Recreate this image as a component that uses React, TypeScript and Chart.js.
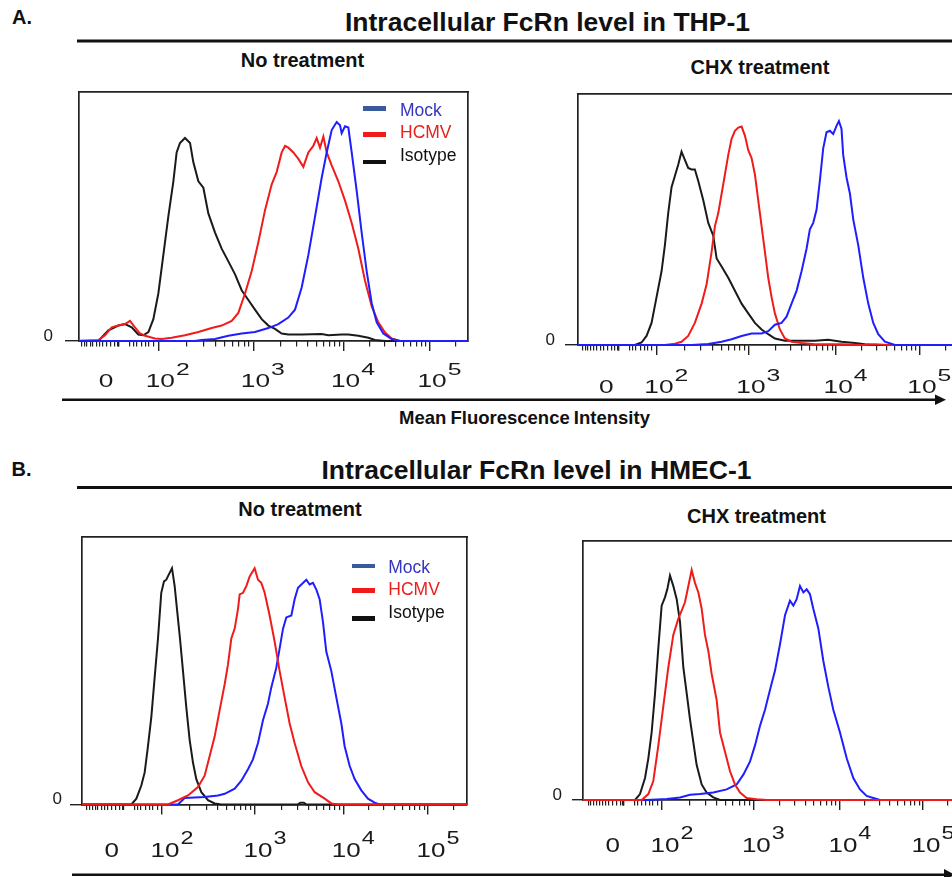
import React, { useEffect, useRef } from "react";
import { Chart, registerables } from "chart.js";

Chart.register(...registerables);

const FONT = '"Liberation Sans", Arial, Helvetica, sans-serif';
const BLUE = "#1e1eff";
const RED = "#f01c1c";
const BLACK = "#1a1a1a";
const AXIS = "#222222";

type Pt = [number, number];

// x: position on the biexponential FL axis in decades (10^2 -> 2 ... 10^5 -> 5)
// y: cell count, % of full scale of the panel
const THP1_NT_MOCK: Pt[] = [[1.09,0],[2.40,0],[2.478,0.4],[2.626,0.8],[2.773,2.1],[2.920,3],[3.067,3.6],[3.215,5.2],[3.325,6.8],[3.435,9.4],[3.509,12.6],[3.583,21.6],[3.656,34.5],[3.730,50],[3.803,65.5],[3.859,75.8],[3.914,84.8],[3.969,88],[4.006,86.7],[4.024,83.5],[4.061,86.3],[4.098,85.8],[4.135,75.8],[4.190,60.3],[4.245,43.6],[4.300,28.1],[4.356,15.2],[4.411,7.5],[4.484,3],[4.576,0.8],[4.668,0],[5.45,0]];
const THP1_NT_HCMV: Pt[] = [[1.09,0],[1.338,0.4],[1.411,2.3],[1.485,5.5],[1.558,6.2],[1.632,6.8],[1.687,8.1],[1.742,5.5],[1.798,3],[1.853,2.1],[1.963,1],[2.037,0.8],[2.147,1.3],[2.294,2.3],[2.442,3.6],[2.589,5.2],[2.699,6.2],[2.810,8.1],[2.883,11.3],[2.957,19.1],[3.031,28.1],[3.104,39.7],[3.178,52.6],[3.251,62.9],[3.307,68],[3.362,75.8],[3.399,78.4],[3.435,77.7],[3.491,75.8],[3.546,73.2],[3.601,70],[3.656,75.8],[3.711,78.4],[3.748,81.6],[3.785,77.7],[3.822,82.2],[3.859,75.8],[3.914,70.6],[3.987,64.2],[4.061,56.4],[4.135,47.4],[4.208,37.1],[4.282,24.2],[4.356,13.9],[4.429,7.5],[4.503,3.4],[4.576,1],[4.668,0],[5.45,0]];
const THP1_NT_ISO: Pt[] = [[1.09,0],[1.338,0],[1.448,4.3],[1.558,6.2],[1.632,6.8],[1.706,5.5],[1.779,2.6],[1.834,2.3],[1.890,3.6],[1.945,8.8],[2.000,19.1],[2.055,34.5],[2.110,50],[2.166,64.2],[2.202,75.8],[2.239,79.6],[2.294,81.6],[2.350,79.6],[2.386,71.9],[2.442,64.2],[2.497,61.6],[2.552,51.3],[2.626,43.6],[2.699,37.1],[2.773,32],[2.847,26.8],[2.920,20.4],[2.994,16.5],[3.067,12.6],[3.141,8.8],[3.215,6.2],[3.288,4.9],[3.362,3],[3.435,2.6],[3.583,2.6],[3.803,2.8],[3.877,2.3],[4.024,2.6],[4.098,2.6],[4.208,2.1],[4.319,1.3],[4.392,0.4],[4.503,0],[5.45,0]];

const THP1_CHX_MOCK: Pt[] = [[1.09,0],[2.395,0],[2.586,0.4],[2.738,1.3],[2.852,2.3],[2.966,3.6],[3.080,4.6],[3.194,4.6],[3.270,5.5],[3.346,8.1],[3.422,8.8],[3.479,11.3],[3.536,16.5],[3.593,21.6],[3.650,29.4],[3.707,38.4],[3.745,46.1],[3.783,48.7],[3.821,53.9],[3.859,65.5],[3.897,78.4],[3.935,84.8],[3.973,85.4],[4.011,84.1],[4.049,87.4],[4.076,89.3],[4.106,86.1],[4.125,75.8],[4.163,66.8],[4.202,60.3],[4.240,50],[4.297,39.7],[4.354,26.8],[4.411,16.5],[4.468,8.8],[4.525,4.3],[4.601,1.3],[4.715,0],[5.45,0]];
const THP1_CHX_HCMV: Pt[] = [[1.09,0],[2.091,0],[2.205,0.5],[2.281,1.3],[2.357,3.6],[2.433,8.8],[2.510,16.5],[2.567,24.2],[2.624,37.1],[2.662,47.4],[2.700,52.6],[2.738,60.3],[2.776,68],[2.814,75.8],[2.852,82.2],[2.890,85.4],[2.928,86.7],[2.966,87.1],[3.004,83.5],[3.042,77.7],[3.080,74.5],[3.118,68],[3.156,57.7],[3.194,47.4],[3.232,37.1],[3.270,26.8],[3.308,19.1],[3.346,12.6],[3.403,6.2],[3.460,2.6],[3.536,1.3],[3.650,0.8],[3.802,0.3],[4.106,0.3],[4.335,0],[4.487,0.3],[4.639,0],[5.45,0]];
const THP1_CHX_ISO: Pt[] = [[1.09,0],[1.749,0],[1.825,1],[1.882,3.6],[1.939,8.8],[1.996,19.1],[2.053,29.4],[2.091,39.7],[2.129,52.6],[2.167,62.9],[2.205,67.4],[2.243,71.9],[2.281,77.1],[2.319,73.8],[2.357,70.6],[2.395,70],[2.433,70],[2.471,65.5],[2.529,57.7],[2.586,48.7],[2.643,43.6],[2.681,34.5],[2.738,31.3],[2.814,26.8],[2.890,21.6],[2.966,16.5],[3.042,12.6],[3.118,8.8],[3.194,6.2],[3.270,4.3],[3.346,2.6],[3.460,1.7],[3.650,1.7],[3.802,1.7],[3.954,2.1],[4.106,1.3],[4.259,0.8],[4.373,0.3],[4.487,0],[5.45,0]];

const HMEC_NT_MOCK: Pt[] = [[1.09,0],[2.180,0],[2.256,2.4],[2.481,2.8],[2.632,3.4],[2.707,4],[2.820,5.9],[2.895,8.9],[2.970,13.2],[3.026,16.9],[3.083,23],[3.139,31.5],[3.195,37.7],[3.233,43.8],[3.289,51.1],[3.327,58.4],[3.365,65.8],[3.402,70],[3.459,70.7],[3.496,76.8],[3.534,81.1],[3.590,82.9],[3.628,84.1],[3.665,82.3],[3.703,82.9],[3.741,80.4],[3.778,76.8],[3.816,68.2],[3.853,57.2],[3.910,49.9],[3.966,40.1],[4.023,30.3],[4.060,21.8],[4.117,14.4],[4.173,9.5],[4.248,5.3],[4.323,2.2],[4.398,0.7],[4.455,0],[5.45,0]];
const HMEC_NT_HCMV: Pt[] = [[1.09,0],[2.068,0],[2.180,1.6],[2.293,3.4],[2.406,6.5],[2.481,10.8],[2.556,20.5],[2.594,25.4],[2.650,35.2],[2.707,45],[2.744,52.3],[2.782,62.1],[2.820,65.8],[2.857,73.1],[2.876,78.6],[2.914,79.2],[2.951,81.7],[2.989,85.3],[3.045,88.4],[3.083,84.1],[3.120,82.9],[3.158,79.2],[3.214,70.7],[3.271,60.9],[3.327,49.9],[3.383,40.1],[3.440,30.3],[3.496,23],[3.571,14.4],[3.647,8.3],[3.722,4.6],[3.835,2.2],[3.910,0.4],[3.985,0],[5.45,0]];
const HMEC_NT_ISO: Pt[] = [[1.09,0],[1.654,0],[1.711,2.2],[1.767,7.1],[1.805,12],[1.842,21.8],[1.880,32.8],[1.917,47.4],[1.955,62.1],[1.992,79.2],[2.023,83.5],[2.049,84.1],[2.075,85.9],[2.113,88.4],[2.143,81.7],[2.173,71.9],[2.203,62.1],[2.237,49.9],[2.274,36.4],[2.312,24.2],[2.350,15.6],[2.387,9.5],[2.444,4.6],[2.519,1.6],[2.594,0.4],[2.669,0],[3.53,0],[3.56,0.7],[3.60,0.7],[3.63,0],[5.45,0]];

const HMEC_CHX_MOCK: Pt[] = [[1.09,0],[1.824,0],[2.054,0.4],[2.207,1],[2.322,2],[2.437,2.3],[2.590,2.9],[2.743,4.1],[2.858,6],[2.935,9.8],[3.011,14.8],[3.069,21.1],[3.126,28.6],[3.184,34.9],[3.241,42.5],[3.299,50],[3.356,60.1],[3.414,71.4],[3.471,77],[3.510,75.1],[3.548,77.6],[3.586,82.7],[3.625,80.2],[3.663,81.4],[3.701,79.5],[3.739,73.9],[3.797,66.3],[3.854,53.8],[3.912,43.7],[3.969,34.9],[4.046,26.1],[4.123,16.1],[4.199,8.5],[4.276,4.1],[4.352,1.6],[4.429,0.8],[4.506,0],[5.45,0]];
const HMEC_CHX_HCMV: Pt[] = [[1.09,0],[1.766,0],[1.843,2.3],[1.900,7.3],[1.958,21.1],[2.015,36.2],[2.073,51.3],[2.130,63.8],[2.188,70.1],[2.226,73.2],[2.264,76.4],[2.303,82.7],[2.341,88.9],[2.379,83.9],[2.418,80.2],[2.456,73.9],[2.494,63.8],[2.533,57.5],[2.571,48.7],[2.628,38.7],[2.667,26.1],[2.724,18.6],[2.782,11.1],[2.839,6],[2.897,2.9],[2.973,0.8],[3.088,0.3],[3.203,0],[5.45,0]];
const HMEC_CHX_ISO: Pt[] = [[1.09,0],[1.690,0],[1.747,2.3],[1.805,8.5],[1.843,16.1],[1.881,26.1],[1.920,41.2],[1.958,58.8],[1.996,75.1],[2.034,78.3],[2.061,81.4],[2.092,86.7],[2.130,82.7],[2.169,77.6],[2.207,68.8],[2.245,51.3],[2.284,41.2],[2.322,31.2],[2.360,22.4],[2.398,13.6],[2.456,6],[2.513,2.9],[2.590,1],[2.667,0],[5.45,0]];

const SERIES_NAMES = ["Mock", "HCMV", "Isotype"];
const SERIES_COLORS = [BLUE, RED, BLACK];

// axis: major decades, minor ticks in the linear (near zero) region, tick labels
const X_MAJOR = [2, 3.05, 4.045, 5];
const X_MINOR_LOW = [1.154,1.183,1.213,1.249,1.279,1.315,1.353,1.389,1.434,1.478,1.522,1.552,1.558,1.564,1.688,1.724,1.761,1.817,1.861,1.897,1.945];
const X_LABEL_POS = [1.40, 2, 3.05, 4.045, 5];
const X_LABEL_BASE = ["0", "10", "10", "10", "10"];
const X_LABEL_SUP = ["", "2", "3", "4", "5"];

function minorTicks(max: number): number[] {
  const out = [...X_MINOR_LOW];
  const majors = [...X_MAJOR, X_MAJOR[3] + 0.955];
  for (let i = 0; i < majors.length - 1; i++) {
    const span = majors[i + 1] - majors[i];
    for (let k = 2; k <= 9; k++) out.push(majors[i] + span * Math.log10(k));
  }
  return out.filter((v) => v <= max);
}

const PANELS = [
  { key: "thp1-nt", left: 20, top: 70, width: 460, height: 330, yAxisW: 59, xAxisH: 59, padTop: 12, padRight: 12, xMin: 1.124, xMax: 5.419, yTick: 14, yPad: 12, lab: { size: 17.5, sx: 1.5, supSize: 16.5, rise: 12, dy: 46, dx: 2 }, series: [THP1_NT_MOCK, THP1_NT_HCMV, THP1_NT_ISO], order: [0, 1, 2] },
  { key: "thp1-chx", left: 520, top: 74, width: 460, height: 330, yAxisW: 58, xAxisH: 59, padTop: 12, padRight: 22.4, xMin: 1.1, xMax: 5.43, yTick: 13, yPad: 10, lab: { size: 17.5, sx: 1.5, supSize: 16.5, rise: 12, dy: 48, dx: 2 }, series: [THP1_CHX_MOCK, THP1_CHX_HCMV, THP1_CHX_ISO], order: [0, 1, 2] },
  { key: "hmec-nt", left: 20, top: 519, width: 460, height: 358, yAxisW: 62, xAxisH: 72.5, padTop: 12, padRight: 13, xMin: 1.098, xMax: 5.44, yTick: 12, yPad: 8, lab: { size: 20, sx: 1.3, supSize: 18, rise: 13, dy: 52, dx: 3 }, series: [HMEC_NT_MOCK, HMEC_NT_HCMV, HMEC_NT_ISO], order: [1, 0, 2] },
  { key: "hmec-chx", left: 520, top: 521, width: 460, height: 356, yAxisW: 63, xAxisH: 77, padTop: 12, padRight: 19.6, xMin: 1.092, xMax: 5.43, yTick: 11, yPad: 10, lab: { size: 20, sx: 1.3, supSize: 18, rise: 13, dy: 52, dx: 3 }, series: [HMEC_CHX_MOCK, HMEC_CHX_HCMV, HMEC_CHX_ISO], order: [1, 0, 2] },
];

const biexLabels = {
  id: "biexLabels",
  afterDraw(chart: any, _args: any, opts: any) {
    const scale = chart.scales.x;
    const ctx = chart.ctx;
    const yb = chart.chartArea.bottom + opts.dy;
    ctx.save();
    ctx.fillStyle = "#1a1a1a";
    ctx.textBaseline = "alphabetic";
    ctx.textAlign = "left";
    X_LABEL_POS.forEach((pos, i) => {
      const cx = scale.getPixelForValue(pos) + opts.dx;
      ctx.font = `${opts.size}px ${FONT}`;
      const base = X_LABEL_BASE[i];
      const w = ctx.measureText(base).width * opts.sx;
      ctx.save();
      ctx.translate(cx - w / 2, yb);
      ctx.scale(opts.sx, 1);
      ctx.fillText(base, 0, 0);
      ctx.restore();
      const sup = X_LABEL_SUP[i];
      if (sup) {
        ctx.font = `${opts.supSize}px ${FONT}`;
        ctx.save();
        ctx.translate(cx + w / 2 + 1, yb - opts.rise);
        ctx.scale(opts.sx, 1);
        ctx.fillText(sup, 0, 0);
        ctx.restore();
      }
    });
    ctx.restore();
  },
};

function Histogram({ p }: { p: any }) {
  const ref = useRef<HTMLCanvasElement>(null);
  useEffect(() => {
    if (!ref.current) return;
    const chart = new Chart(ref.current, {
      type: "line",
      data: {
        datasets: p.series.map((s: Pt[], i: number) => ({
          label: SERIES_NAMES[i],
          data: s.map(([x, y]) => ({ x, y })),
          borderColor: SERIES_COLORS[i],
          backgroundColor: SERIES_COLORS[i],
          borderWidth: 2,
          pointRadius: 0,
          tension: 0,
          fill: false,
          order: p.order[i],
          clip: { left: 0, right: 0, top: false, bottom: 3 },
          xAxisID: "x",
          yAxisID: "y",
        })),
      },
      options: {
        animation: false,
        responsive: false,
        devicePixelRatio: 1,
        layout: { padding: { top: p.padTop, right: p.padRight, left: 0, bottom: 0 } },
        plugins: {
          legend: { display: false },
          tooltip: { enabled: false },
          biexLabels: p.lab,
        } as any,
        scales: {
          x: {
            type: "linear", position: "bottom", min: p.xMin, max: p.xMax, weight: 0,
            afterBuildTicks: (s: any) => { s.ticks = X_MAJOR.map((v) => ({ value: v })); },
            afterFit: (s: any) => { s.height = 0; },
            ticks: { display: false },
            grid: { display: true, drawOnChartArea: false, drawTicks: true, tickLength: 10, color: AXIS, lineWidth: 1.4 },
            border: { display: true, color: AXIS, width: 1.7 },
          },
          xMinor: {
            type: "linear", position: "bottom", min: p.xMin, max: p.xMax, weight: 1,
            afterBuildTicks: (s: any) => { s.ticks = minorTicks(p.xMax).map((v) => ({ value: v })); },
            afterFit: (s: any) => { s.height = p.xAxisH; },
            ticks: { display: false },
            grid: { display: true, drawOnChartArea: false, drawTicks: true, tickLength: 5.5, color: AXIS, lineWidth: 1.2 },
            border: { display: false },
          },
          y: {
            type: "linear", position: "left", min: 0, max: 100,
            afterBuildTicks: (s: any) => { s.ticks = [{ value: 0 }]; },
            afterFit: (s: any) => { s.width = p.yAxisW; },
            ticks: { callback: () => "0", color: "#1a1a1a", font: { family: FONT, size: 17 }, padding: p.yPad, labelOffset: -5 },
            grid: { display: true, drawOnChartArea: false, drawTicks: true, tickLength: p.yTick, color: AXIS, lineWidth: 1.4 },
            border: { display: true, color: AXIS, width: 1.7 },
          },
          xTop: {
            type: "linear", position: "top",
            afterFit: (s: any) => { s.height = 0; },
            ticks: { display: false },
            grid: { display: false },
            border: { display: true, color: AXIS, width: 1.7 },
          },
          yRight: {
            type: "linear", position: "right",
            afterFit: (s: any) => { s.width = 0; },
            ticks: { display: false },
            grid: { display: false },
            border: { display: true, color: AXIS, width: 1.7 },
          },
        } as any,
      },
      plugins: [biexLabels as any],
    } as any);
    return () => chart.destroy();
  }, []);
  return (
    <canvas
      ref={ref}
      width={p.width}
      height={p.height}
      style={{ position: "absolute", left: p.left, top: p.top, width: p.width, height: p.height }}
    />
  );
}

function Txt({ x, capTop, size, text, center, color, bold, extra }: any) {
  const top = capTop - 0.13 * size;
  return (
    <div
      style={{
        position: "absolute",
        top,
        left: center ? x - 400 : x,
        width: center ? 800 : undefined,
        textAlign: center ? "center" : "left",
        fontSize: size,
        lineHeight: `${size}px`,
        fontWeight: bold ? 700 : 400,
        color: color || "#111",
        whiteSpace: "nowrap",
        fontFamily: FONT,
        ...(extra || {}),
      }}
    >
      {text}
    </div>
  );
}

const LEGEND_TEXT_COLORS = ["#3535c0", "#e8201e", "#111"];
const LEGEND_BAR_COLORS = ["#3a5b9b", "#f01c1c", "#111"];

function Legend({ barX, textX, capTops, barYs, size }: any) {
  return (
    <>
      {SERIES_NAMES.map((n, i) => (
        <React.Fragment key={n}>
          <div style={{ position: "absolute", left: barX, top: barYs[i], width: 23, height: 4.8, background: LEGEND_BAR_COLORS[i] }} />
          <Txt x={textX} capTop={capTops[i]} size={size} text={n} color={LEGEND_TEXT_COLORS[i]} />
        </React.Fragment>
      ))}
    </>
  );
}

export default function App() {
  return (
    <div style={{ position: "absolute", left: 0, top: 0, width: 952, height: 877, overflow: "hidden", background: "#fff", fontFamily: FONT }}>
      <svg width={952} height={877} style={{ position: "absolute", left: 0, top: 0 }}>
        <rect x={77} y={39.5} width={875} height={3} fill="#111" />
        <rect x={77} y={486} width={875} height={3} fill="#111" />
        <rect x={62} y={398.5} width={875} height={2.5} fill="#111" />
        <polygon points="935,394.5 946,399.75 935,405" fill="#111" />
        <rect x={72} y={873.5} width={875} height={2.5} fill="#111" />
        <polygon points="944,869 955,874.75 944,880" fill="#111" />
      </svg>

      <Txt x={12} capTop={10} size={20} text="A." bold />
      <Txt x={11.5} capTop={462} size={20} text="B." bold />
      <Txt x={547.5} capTop={12} size={26.5} text="Intracellular FcRn level in THP-1" bold center />
      <Txt x={536.5} capTop={460} size={26.5} text="Intracellular FcRn level in HMEC-1" bold center />
      <Txt x={302.5} capTop={53} size={20} text="No treatment" bold center />
      <Txt x={760} capTop={60} size={20} text="CHX treatment" bold center />
      <Txt x={300} capTop={502} size={20} text="No treatment" bold center />
      <Txt x={756.5} capTop={509} size={20} text="CHX treatment" bold center />
      <Txt x={524.5} capTop={411} size={18.5} text="Mean Fluorescence Intensity" bold center extra={{ wordSpacing: -1 }} />

      {PANELS.map((p) => (
        <Histogram key={p.key} p={p} />
      ))}

      <Legend barX={363} textX={400} capTops={[104.3, 126.7, 149.3]} barYs={[106, 132, 159.5]} size={17.5} />
      <Legend barX={352} textX={388.3} capTops={[561.7, 583.3, 606.7]} barYs={[563.5, 588, 616]} size={17.5} />
    </div>
  );
}
